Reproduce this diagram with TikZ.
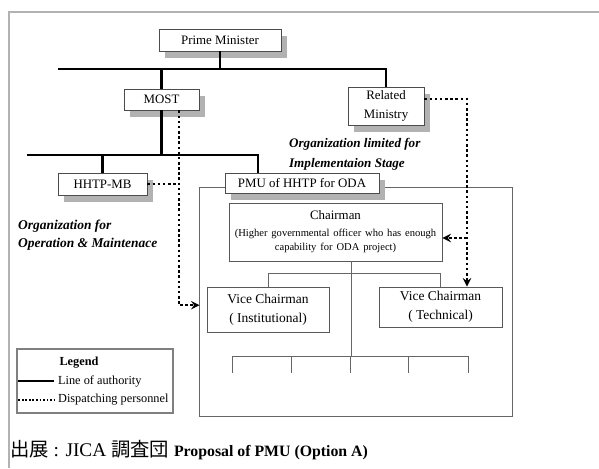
\documentclass[tikz,border=0pt]{standalone}
\usepackage{fontspec}
\setmainfont{Liberation Serif}
\newfontfamily\cjk{Noto Sans CJK JP}
\usetikzlibrary{shadows}

\begin{document}
\begin{tikzpicture}[>=stealth, x=0.03cm, y=-0.03cm,
  boite/.style={draw=black!70, line width=0.7pt, fill=white, inner sep=1pt, align=center,
    font=\fontsize{11}{12}\selectfont,
    drop shadow={shadow xshift=5pt, shadow yshift=-6pt, fill=black!30, opacity=1}},
  poste/.style={draw=black!65, line width=0.7pt, fill=white, inner sep=1pt, align=center},
  autorite/.style={line width=2.4pt},
  envoi/.style={line width=2.2pt, dash pattern=on 2.2pt off 2.2pt},
  interne/.style={draw=black!60, line width=0.8pt},
  etiquette/.style={font=\fontsize{11.2}{17}\selectfont\bfseries\itshape, align=left}]
  \useasboundingbox (0,0) rectangle (599,468);
  % Cadre de la page
  \draw[black!30, line width=1.5pt] (9,468) -- (9,12) -- (599,12);
  % Cadre du PMU
  \node[interne, minimum width=9.39cm, minimum height=6.87cm] (cadre) at (355.5,301.5) {};
  % Organes
  \node[boite, minimum width=3.66cm, minimum height=0.66cm] (pm) at (220,40) {Prime Minister};
  \node[boite, minimum width=2.25cm, minimum height=0.63cm] (most) at (161.5,99.5) {MOST};
  \node[boite, minimum width=2.28cm, minimum height=1.14cm, font=\fontsize{11}{16}\selectfont] (rm) at (386,106) {Related\\Ministry};
  \node[boite, minimum width=2.67cm, minimum height=0.66cm] (hhtp) at (102.5,184) {HHTP-MB};
  \node[boite, minimum width=4.62cm, minimum height=0.6cm] (pmu) at (302,183) {PMU of HHTP for ODA};
  % Postes du PMU
  \node[poste, minimum width=6.39cm, minimum height=1.74cm, text width=6.2cm] (ch) at (335.5,232)
    {\fontsize{11}{14}\selectfont Chairman\\ \fontsize{9}{14.5}\selectfont (Higher governmental officer who has enough\\capability for ODA project)};
  \node[poste, minimum width=3.66cm, minimum height=1.35cm, font=\fontsize{11.5}{16}\selectfont] (vci) at (268,309.5) {Vice Chairman\\( Institutional)};
  \node[poste, minimum width=3.69cm, minimum height=1.2cm, font=\fontsize{11.5}{16}\selectfont] (vct) at (440.5,307) {Vice Chairman\\( Technical)};
  % Textes
  \node[etiquette, anchor=north west] (impl) at (285,134) {Organization limited for\\Implementaion Stage};
  \node[etiquette, anchor=north west, font=\fontsize{11.5}{15.5}\selectfont\bfseries\itshape] (om) at (14,216) {Organization for\\Operation \& Maintenace};
  % Ligne d'autorite
  \coordinate (barre1) at (58,69);
  \coordinate (barre2) at (27,155);
  \coordinate (barre2d) at (258,155);
  \draw[autorite] (pm.south) -- (pm.south |- barre1);
  \draw[autorite] (barre1) -| (rm.north);
  \draw[autorite] (most.north |- barre1) -- (most.north);
  \draw[autorite] (most.south) -- (most.south |- barre2);
  \draw[autorite] (barre2) -- (barre2d) -- (barre2d |- pmu.north);
  \draw[autorite] (hhtp.north |- barre2) -- (hhtp.north);
  % Personnel detache
  \coordinate (envoig) at (179,0);
  \coordinate (envoid) at (467,0);
  \draw[envoi,->] (most.south -| envoig) |- ([xshift=-0.21cm,yshift=0.13cm]vci.west);
  \draw[envoi] (hhtp.east) -- (hhtp.east -| envoig);
  \draw[envoi,->] ([yshift=0.21cm]rm.east) -| (envoid |- vct.north);
  \draw[envoi,->] ([yshift=-0.18cm]ch.east -| envoid) -- ([yshift=-0.18cm]ch.east);
  % Liaisons internes
  \coordinate (tronc) at (351,0);
  \coordinate (branche) at (0,273);
  \coordinate (barre3) at (232,356);
  \draw[interne] (ch.south -| tronc) -- (tronc |- barre3);
  \draw[interne] (vci.north) -- (vci.north |- branche) -- (vct.north |- branche) -- (vct.north);
  \draw[interne] (barre3) -- ++(236,0);
  \foreach \x in {0,59,118,176,236}
    \draw[interne] ([xshift=\x*0.03cm]barre3) -- ++(0,17);
  % Legende
  \node[draw=black!50, line width=1pt, minimum width=4.68cm, minimum height=1.92cm] (legende) at (95,381) {};
  \node[font=\fontsize{10.5}{12}\selectfont\bfseries] (titre) at (79,363) {Legend};
  \node[anchor=west, font=\fontsize{10.5}{12}\selectfont] (lig1) at (54,381) {Line of authority};
  \node[anchor=west, font=\fontsize{10.5}{12}\selectfont] (lig2) at (54,400) {Dispatching personnel};
  \draw[line width=1.6pt] ([xshift=0.06cm]legende.west |- lig1.west) -- (lig1.west);
  \draw[envoi, line width=1.3pt, dash pattern=on 1.5pt off 1.5pt] ([xshift=0.06cm]legende.west |- lig2.west) -- (lig2.west);
  % Source
  \node[anchor=base west, inner sep=0pt] (source) at (10,456)
    {\fontsize{16.5}{18}\selectfont{\cjk 出展} : JICA {\cjk 調査団} \fontsize{13.5}{15}\selectfont\bfseries Proposal of PMU (Option A)};
\end{tikzpicture}
\end{document}
